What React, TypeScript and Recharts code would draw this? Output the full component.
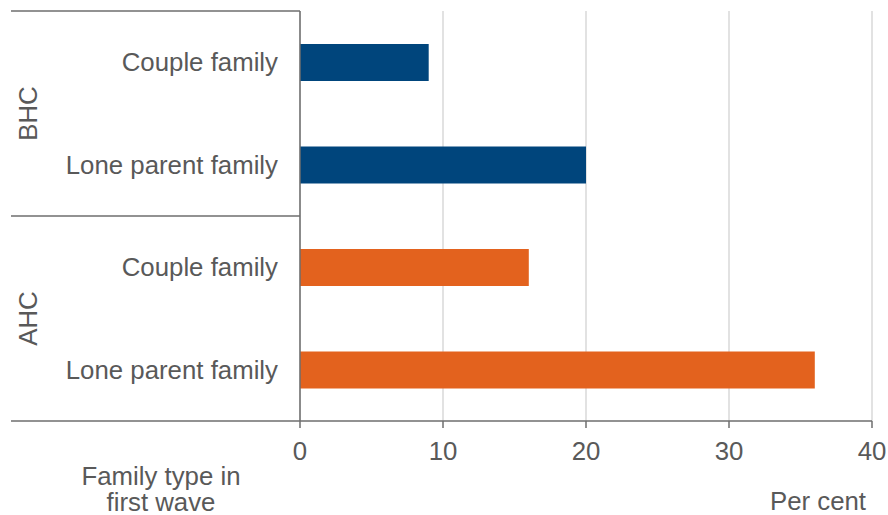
import { BarChart, Bar, Cell, XAxis, YAxis, CartesianGrid } from "recharts";

const categories = ["Couple family", "Lone parent family", "Couple family", "Lone parent family"];
const groups = ["BHC", "BHC", "AHC", "AHC"];
const values = [9, 20, 16, 36];
const xTicks = [0, 10, 20, 30, 40];
const groupColors: Record<string, string> = { BHC: "#00457c", AHC: "#e3621e" };

const data = categories.map((name, i) => ({
  key: `${groups[i]}-${name}`,
  value: values[i],
  group: groups[i],
}));

const FONT = "'Liberation Sans', Arial, sans-serif";
const FS = 25.8;
const TEXT = "#595959";
const LINE = "#6e6e6e";
const LEFT = 11;
const Y_WIDTH = 289;
const AXIS_X = LEFT + Y_WIDTH;

function RowTick(props: any) {
  const { y, payload, index } = props;
  const half = payload?.offset ?? 51.25;
  const g = groups[index];
  const first = index === 0 || groups[index - 1] !== g;
  const last = index === groups.length - 1;
  const n = groups.filter((x) => x === g).length;
  const mid = y - half + n * half;
  return (
    <g>
      <text x={AXIS_X - 22} y={y} dy="0.35em" textAnchor="end" fill={TEXT} fontSize={FS} fontFamily={FONT}>
        {categories[index]}
      </text>
      {first && (
        <>
          <line x1={LEFT} x2={AXIS_X} y1={y - half} y2={y - half} stroke={LINE} strokeWidth={1.5} />
          <text
            x={LEFT + 17}
            y={mid}
            dy="0.35em"
            textAnchor="middle"
            transform={`rotate(-90 ${LEFT + 17} ${mid})`}
            fill={TEXT}
            fontSize={FS}
            fontFamily={FONT}
          >
            {g}
          </text>
        </>
      )}
      {last && <line x1={LEFT} x2={AXIS_X} y1={y + half} y2={y + half} stroke={LINE} strokeWidth={1.5} />}
    </g>
  );
}

function XLabel(props: any) {
  const { viewBox } = props;
  return (
    <text x={viewBox.x + viewBox.width - 6} y={viewBox.y + 89} textAnchor="end" fill={TEXT} fontSize={FS} fontFamily={FONT}>
      Per cent
    </text>
  );
}

function YLabel() {
  return (
    <text textAnchor="middle" fill={TEXT} fontSize={FS} fontFamily={FONT}>
      <tspan x={161} y={485}>Family type in</tspan>
      <tspan x={161} y={511}>first wave</tspan>
    </text>
  );
}

export default function App() {
  return (
    <div style={{ position: "absolute", left: 0, top: 0, background: "#fff" }}>
      <BarChart
        width={888}
        height={515}
        data={data}
        layout="vertical"
        margin={{ top: 11, right: 16, bottom: 0, left: LEFT }}
      >
        <CartesianGrid horizontal={false} stroke="#d9d9d9" strokeWidth={1.5} />
        <XAxis
          type="number"
          domain={[0, 40]}
          ticks={xTicks}
          height={94}
          axisLine={{ stroke: LINE, strokeWidth: 1.5 }}
          tickLine={{ stroke: LINE, strokeWidth: 1.5 }}
          tickSize={7}
          tickMargin={14}
          tick={{ fill: TEXT, fontSize: FS, fontFamily: FONT }}
          label={<XLabel />}
        />
        <YAxis
          type="category"
          dataKey="key"
          width={Y_WIDTH}
          axisLine={{ stroke: LINE, strokeWidth: 1.5 }}
          tickLine={false}
          tick={<RowTick />}
          interval={0}
          label={<YLabel />}
        />
        <Bar dataKey="value" barSize={37} isAnimationActive={false}>
          {data.map((d) => (
            <Cell key={d.key} fill={groupColors[d.group]} />
          ))}
        </Bar>
      </BarChart>
    </div>
  );
}
